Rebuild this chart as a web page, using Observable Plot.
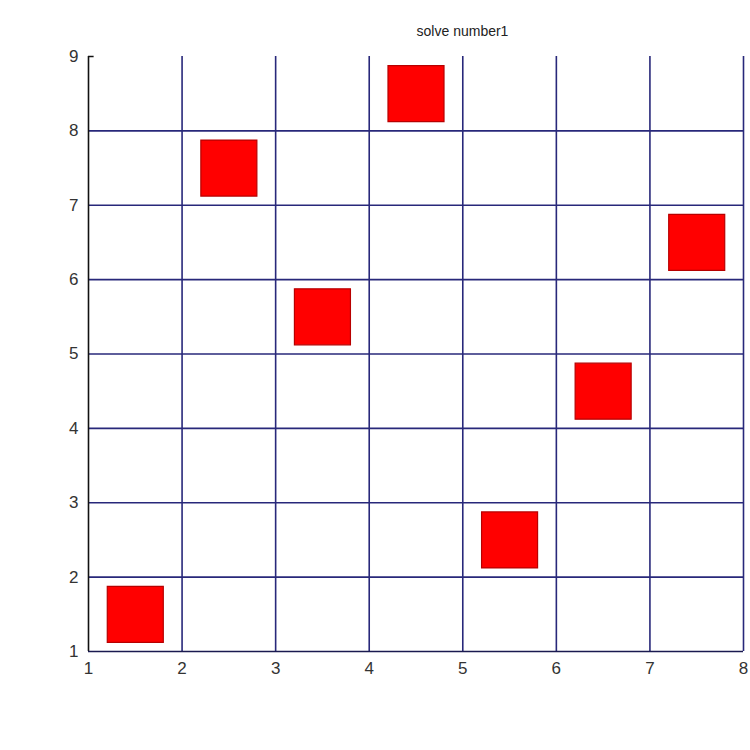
<!DOCTYPE html>
<html>
<head>
<meta charset="utf-8">
<script src="https://cdn.jsdelivr.net/npm/d3@7"></script>
<script src="https://cdn.jsdelivr.net/npm/@observablehq/plot@0.6"></script>
<style>
  html, body { margin: 0; padding: 0; background: #fff; overflow: hidden; }
  #wrap { position: relative; width: 750px; height: 750px; }
  #title { position: absolute; left: 0; width: 925px; top: 23px; text-align: center;
           font-family: "Liberation Sans", Arial, sans-serif; font-size: 14px; color: #222; }
  #chart { position: absolute; left: 0; top: 0; }
</style>
</head>
<body>
<div id="wrap">
  <div id="chart"></div>
  <div id="title"></div>
</div>
<script>
const titleText = "solve number1";
const colIndex = [1.5, 2.5, 3.5, 4.5, 5.5, 6.5, 7.5];
const rowIndex = [1.5, 7.5, 5.5, 8.5, 2.5, 4.5, 6.5];
const xTicks = [1, 2, 3, 4, 5, 6, 7, 8];
const yTicks = [1, 2, 3, 4, 5, 6, 7, 8, 9];

const squares = colIndex.map((x, i) => ({x, y: rowIndex[i]}));
const gridColor = "#28287a";

const chart = Plot.plot({
  width: 750,
  height: 750,
  marginLeft: 88,
  marginRight: 7,
  marginTop: 56,
  marginBottom: 99,
  style: {fontFamily: "'Liberation Sans', Arial, sans-serif", fontSize: "17px", color: "#333", background: "#fff"},
  x: {domain: [1, 8], ticks: xTicks, label: null},
  y: {domain: [1, 9], ticks: yTicks, label: null},
  marks: [
    Plot.ruleX(xTicks.filter(d => d > 1), {stroke: gridColor, strokeWidth: 1.6, y1: 1, y2: 9}),
    Plot.ruleY(yTicks.filter(d => d > 1 && d < 9), {stroke: gridColor, strokeWidth: 1.6, x1: 1, x2: 8}),
    Plot.ruleX([1], {stroke: "#111", strokeWidth: 1.6, y1: 1, y2: 9}),
    Plot.ruleY([1], {stroke: "#1a1a50", strokeWidth: 1.6, x1: 1, x2: 8}),
    Plot.ruleY([9], {x1: 1, x2: 1.06, stroke: "#111", strokeWidth: 1.5}),
    Plot.axisX({ticks: xTicks, tickFormat: d3.format("d"), tickSize: 0, tickPadding: 10, fontSize: 17, fill: "#333"}),
    Plot.axisY({ticks: yTicks, tickFormat: d3.format("d"), tickSize: 0, tickPadding: 10, fontSize: 17, fill: "#333"}),
    Plot.dot(squares, {x: "x", y: "y", symbol: "square", r: 31.6, fill: "#ff0000", stroke: "#b80000", strokeWidth: 1.2})
  ]
});
document.getElementById("chart").appendChild(chart);
document.getElementById("title").textContent = titleText;
</script>
</body>
</html>
